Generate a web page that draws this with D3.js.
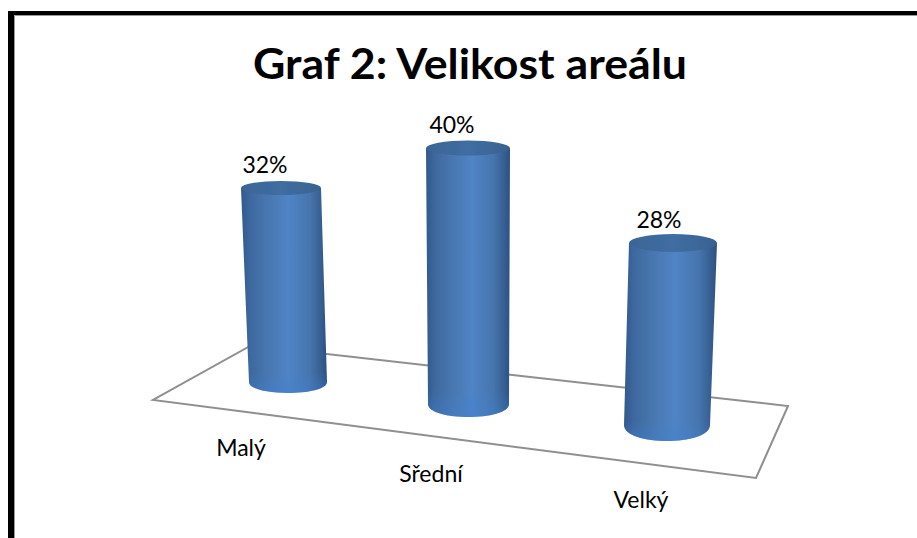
<!DOCTYPE html>
<html>
<head>
<meta charset="utf-8">
<script src="https://cdn.jsdelivr.net/npm/d3@7"></script>
<style>
    html, body { margin: 0; padding: 0; background: #fff; }
    svg { display: block; }
    text { font-family: Lato, sans-serif; fill: #000; }
</style>
</head>
<body>
<svg id="chart"></svg>
<script>
// Chart data
var categories = ["Malý", "Sřední", "Velký"];
var values = [32, 40, 28];
var titleText = "Graf 2: Velikost areálu";

var width = 917,
    height = 538;

// The reference is a perspective view, so every scale depends on the category
var baseX = d3.scaleOrdinal().domain(categories).range([288, 468.5, 667]);
var baseY = d3.scaleOrdinal().domain(categories).range([382, 404, 425]);
var topX = d3.scaleOrdinal().domain(categories).range([281, 468, 673]);
var baseRx = d3.scaleOrdinal().domain(categories).range([39, 40.5, 43]);
var topRx = d3.scaleOrdinal().domain(categories).range([40, 42, 44]);
var baseRy = d3.scaleOrdinal().domain(categories).range([11, 13, 16]);
var topRy = d3.scaleOrdinal().domain(categories).range([7, 7.5, 9]);
var fullHeight = d3.scaleOrdinal().domain(categories).range([242.5, 256, 260]);
var y = d3.scaleLinear().domain([0, 40]).range([0, 1]);

var labelX = d3.scaleOrdinal().domain(categories).range([265, 452, 659]);
var catX = d3.scaleOrdinal().domain(categories).range([241, 431, 641]);
var catY = d3.scaleOrdinal().domain(categories).range([456, 482, 508]);

var svg = d3.select("#chart").attr("width", width).attr("height", height);

var defs = svg.append("defs");

var sideGrad = defs.append("linearGradient").attr("id", "side");
[[0, "#31598c"], [0.1, "#3d689e"], [0.35, "#4a79b3"], [0.55, "#5084c6"], [0.8, "#4675ad"], [0.93, "#365f92"], [1, "#2d507e"]].forEach(function(s) {
    sideGrad.append("stop").attr("offset", s[0]).attr("stop-color", s[1]);
});

var capGrad = defs.append("linearGradient").attr("id", "cap");
[[0, "#3a6595"], [0.5, "#406da2"], [1, "#386290"]].forEach(function(s) {
    capGrad.append("stop").attr("offset", s[0]).attr("stop-color", s[1]);
});

// lighter rim at the foot of each cylinder
var footGrad = defs.append("linearGradient").attr("id", "foot")
    .attr("x1", 0).attr("x2", 0).attr("y1", 0).attr("y2", 1);
[[0.9, "#3f7fd0", 0], [1, "#3f7fd0", 0.45]].forEach(function(s) {
    footGrad.append("stop").attr("offset", s[0]).attr("stop-color", s[1]).attr("stop-opacity", s[2]);
});

var soft = defs.append("filter").attr("id", "soft");
soft.append("feGaussianBlur").attr("stdDeviation", 0.5);

// Floor
svg.append("path")
    .attr("d", d3.line()([[251, 345.5], [788, 406], [756, 478], [153, 400]]) + "Z")
    .attr("fill", "#fff")
    .attr("stroke", "#8f8f8f")
    .attr("stroke-width", 2);

function sidePath(d) {
    var c = d.category;
    var topY = baseY(c) - y(d.value) * fullHeight(c);
    var p = d3.path();
    p.moveTo(topX(c) - topRx(c), topY);
    p.lineTo(topX(c) + topRx(c), topY);
    p.lineTo(baseX(c) + baseRx(c), baseY(c));
    p.bezierCurveTo(baseX(c) + baseRx(c), baseY(c) + baseRy(c) * 1.33, baseX(c) - baseRx(c), baseY(c) + baseRy(c) * 1.33, baseX(c) - baseRx(c), baseY(c));
    p.closePath();
    return p.toString();
}

var data = categories.map(function(c, i) {
    return { category: c, value: values[i] };
});

var bars = svg.selectAll("g.bar")
    .data(data).enter()
    .append("g")
    .attr("class", "bar")
    .attr("filter", "url(#soft)");

bars.append("path")
    .attr("d", sidePath)
    .attr("fill", "url(#side)");

bars.append("path")
    .attr("d", sidePath)
    .attr("fill", "url(#foot)");

bars.append("ellipse")
    .attr("cx", function(d) { return topX(d.category); })
    .attr("cy", function(d) { return baseY(d.category) - y(d.value) * fullHeight(d.category); })
    .attr("rx", function(d) { return topRx(d.category); })
    .attr("ry", function(d) { return topRy(d.category); })
    .attr("fill", "url(#cap)");

svg.selectAll("text.value")
    .data(data).enter()
    .append("text")
    .attr("class", "value")
    .attr("x", function(d) { return labelX(d.category); })
    .attr("y", function(d) { return baseY(d.category) - y(d.value) * fullHeight(d.category) - 15; })
    .attr("text-anchor", "middle")
    .style("font-size", "23px")
    .text(function(d) { return d.value + "%"; });

svg.selectAll("text.cat")
    .data(data).enter()
    .append("text")
    .attr("class", "cat")
    .attr("x", function(d) { return catX(d.category); })
    .attr("y", function(d) { return catY(d.category); })
    .attr("text-anchor", "middle")
    .style("font-size", "23px")
    .text(function(d) { return d.category; });

svg.append("text")
    .attr("x", 470)
    .attr("y", 79)
    .attr("text-anchor", "middle")
    .style("font-size", "42px")
    .style("font-weight", "700")
    .attr("textLength", 434)
    .attr("lengthAdjust", "spacingAndGlyphs")
    .text(titleText);

// Frame, open on the right and at the bottom
svg.append("path")
    .attr("d", d3.line()([[11, height], [11, 13], [width, 13]]))
    .attr("fill", "none")
    .attr("stroke", "#000")
    .attr("stroke-width", 4)
    .attr("stroke-linejoin", "miter");
svg.append("rect").attr("x", 8).attr("y", 11).attr("width", 6).attr("height", height - 11).attr("fill", "#000");
svg.append("path")
    .attr("d", d3.line()([[14.5, height], [14.5, 15.5], [width, 15.5]]))
    .attr("fill", "none")
    .attr("stroke", "#999")
    .attr("stroke-width", 1);
</script>
</body>
</html>
